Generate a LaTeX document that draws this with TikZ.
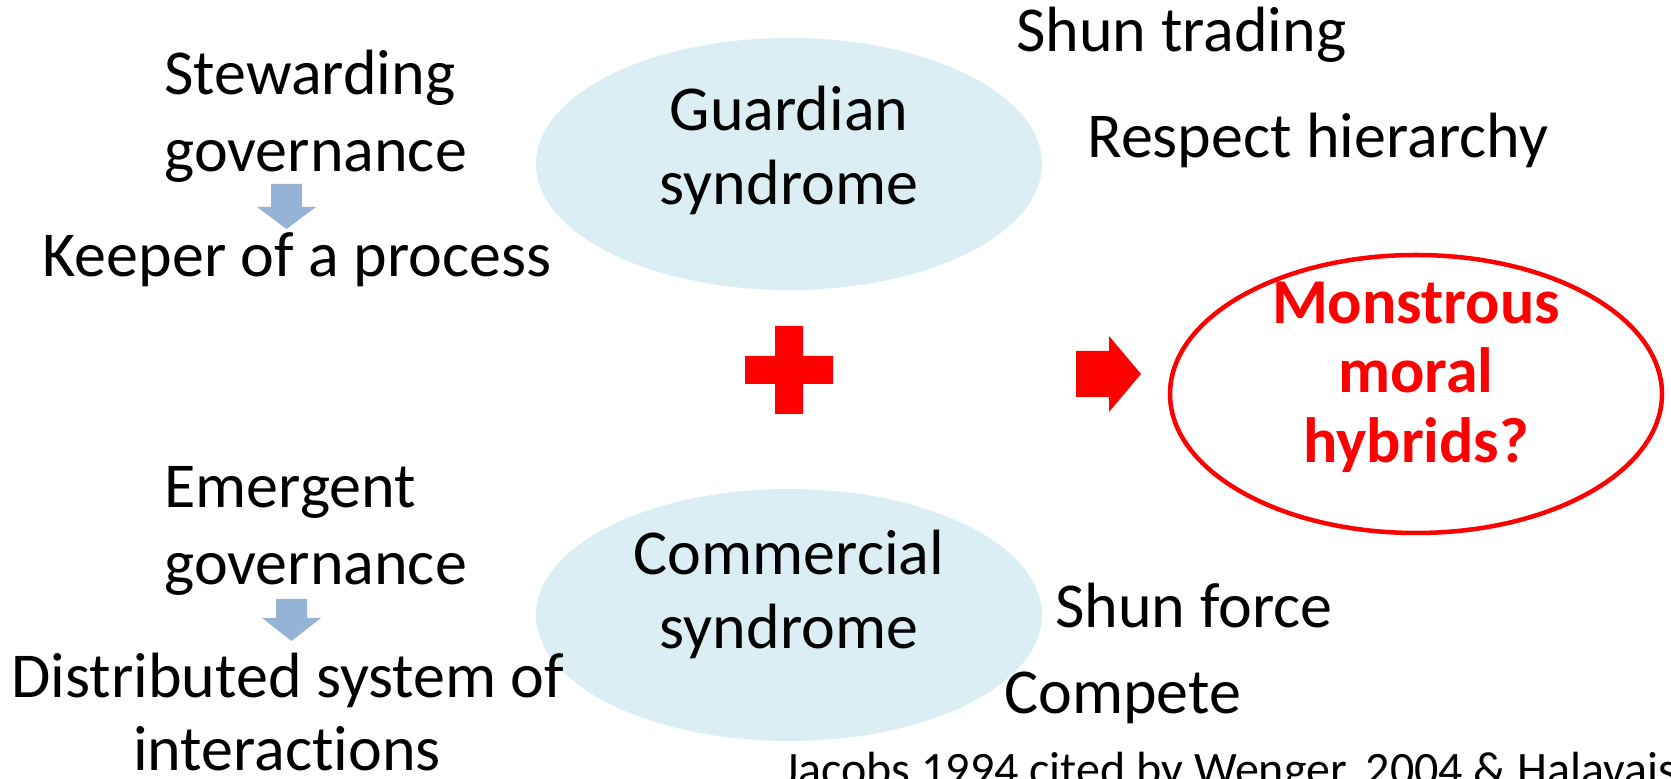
\documentclass[tikz,border=0pt]{standalone}
\usepackage{fontspec}
\setmainfont{Carlito}[Ligatures=NoCommon]
\usetikzlibrary{shapes.geometric}
\definecolor{paleblue}{HTML}{DAEEF3}
\definecolor{arrowblue}{HTML}{95B3D7}
\definecolor{hotred}{HTML}{FF0000}
\begin{document}
\begin{tikzpicture}[x=0.5pt,y=-0.5pt,
  line/.style={font=\fontsize{32}{38}\selectfont, inner sep=0pt, text=black},
  redline/.style={font=\bfseries\fontsize{32}{35}\selectfont, inner sep=0pt, text=hotred},
  note/.style={font=\fontsize{24}{29}\selectfont, inner sep=0pt, text=black},
  syndrome/.style={ellipse, fill=paleblue, draw=none, inner sep=0pt,
                   minimum width=253pt, minimum height=126pt},
  hybrid/.style={ellipse, draw=hotred, line width=2.25pt, fill=white, inner sep=0pt,
                 minimum width=246pt, minimum height=139pt},
  blockarrow/.style={fill=arrowblue},
  redshape/.style={fill=hotred}]
\useasboundingbox (0,0) rectangle (1671,779);

% the two syndromes
\node[syndrome] (guardian) at (789,164) {};
\node[syndrome] (commercial) at (789,615) {};
\node[line, anchor=base] (g1) at (789,131) {Guardian};
\node[line, anchor=base] (g2) at (789,205) {syndrome};
\node[line, anchor=base] (c1) at (789,575) {Commercial};
\node[line, anchor=base] (c2) at (789,649) {syndrome};

% the hybrid outcome
\node[hybrid] (hybrid) at (1416,394) {};
\node[redline, anchor=base] (h1) at (1416,324) {Monstrous};
\node[redline, anchor=base] (h2) at (1416,393) {moral};
\node[redline, anchor=base] (h3) at (1416,463) {hybrids?};

% governance styles on the left
\node[line, anchor=base west] (s1) at (164,95) {Stewarding};
\node[line, anchor=base west] (s2) at (164,172) {governance};
\node[line, anchor=base] (s3) at (297,277) {Keeper of a process};
\node[line, anchor=base west] (e1) at (164,508) {Emergent};
\node[line, anchor=base west] (e2) at (164,585) {governance};
\node[line, anchor=base] (e3) at (288,698) {Distributed system of};
\node[line, anchor=base] (e4) at (287,771) {interactions};

% block arrows between the governance labels
\fill[blockarrow] (271,184) -- (302,184) -- (302,207) -- (316,207) -- (286.5,229)
  -- (257,207) -- (271,207) -- cycle;
\fill[blockarrow] (276,599) -- (307,599) -- (307,618) -- (321,618) -- (291.5,641)
  -- (262,618) -- (276,618) -- cycle;

% behaviours on the right
\node[line, anchor=base west] (t1) at (1016,52) {Shun trading};
\node[line, anchor=base west] (t2) at (1087,158) {Respect hierarchy};
\node[line, anchor=base west] (f1) at (1055,628) {Shun force};
\node[line, anchor=base west] (f2) at (1004,714) {Compete};

% plus sign and result arrow
\fill[redshape] (775,326) -- (803,326) -- (803,356) -- (833,356) -- (833,384)
  -- (803,384) -- (803,414) -- (775,414) -- (775,384) -- (745,384) -- (745,356)
  -- (775,356) -- cycle;
\fill[redshape] (1076,351) -- (1109,351) -- (1109,336) -- (1141,374) -- (1109,412)
  -- (1109,397) -- (1076,397) -- cycle;

% source line
\node[note, anchor=base west] (src) at (783,786) {Jacobs 1994 cited by Wenger, 2004 \& Halavais};
\end{tikzpicture}
\end{document}
